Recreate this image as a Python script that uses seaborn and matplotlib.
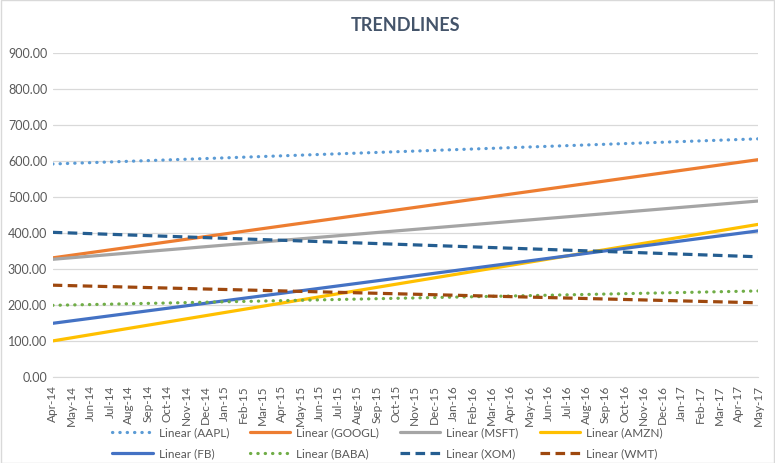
import pandas as pd
import matplotlib
matplotlib.use("Agg")
import matplotlib.pyplot as plt
import seaborn as sns

# month labels along the x axis
months = ["Apr-14", "May-14", "Jun-14", "Jul-14", "Aug-14", "Sep-14", "Oct-14", "Nov-14",
          "Dec-14", "Jan-15", "Feb-15", "Mar-15", "Apr-15", "May-15", "Jun-15", "Jul-15",
          "Aug-15", "Sep-15", "Oct-15", "Nov-15", "Dec-15", "Jan-16", "Feb-16", "Mar-16",
          "Apr-16", "May-16", "Jun-16", "Jul-16", "Aug-16", "Sep-16", "Oct-16", "Nov-16",
          "Dec-16", "Jan-17", "Feb-17", "Mar-17", "Apr-17", "May-17"]

# trendline start (Apr-14) and end (May-17) values
tickers = ["AAPL", "GOOGL", "MSFT", "AMZN", "FB", "BABA", "XOM", "WMT"]
start_vals = [592, 331, 327, 100, 149, 199, 402, 255]
end_vals = [662, 604, 489, 424, 406, 239, 334, 206]

colors = ["#5B9BD5", "#ED7D31", "#A5A5A5", "#FFC000", "#4472C4", "#70AD47", "#255E91", "#9E480E"]
styles = [(0, (0.1, 2.2)), "-", "-", "-", "-", (0, (0.1, 2.2)), (0, (3, 1.7)), (0, (3, 1.7))]

rows = []
for t, s, e in zip(tickers, start_vals, end_vals):
    rows.append({"series": "Linear (" + t + ")", "x": 0, "y": s})
    rows.append({"series": "Linear (" + t + ")", "x": len(months) - 1, "y": e})
df = pd.DataFrame(rows)

sns.set_style("white")
plt.rcParams['font.family'] = ['Lato', 'DejaVu Sans']

fig = plt.figure(figsize=(7.75, 4.63), dpi=100)
ax = fig.add_axes([0.068, 0.186, 0.91, 0.699])

for i, t in enumerate(tickers):
    name = "Linear (" + t + ")"
    sub = df[df["series"] == name]
    ls = styles[i]
    dotted = i in (0, 5)
    sns.lineplot(data=sub, x="x", y="y", ax=ax, color=colors[i], label=name,
                 linewidth=2.3, linestyle="-",
                 dash_capstyle="round" if dotted else "butt")
    line = ax.get_lines()[-1]
    if isinstance(ls, tuple):
        line.set_linestyle(ls)

ax.set_xlim(0, len(months) - 1)
ax.set_ylim(0, 900)
ax.set_yticks(range(0, 901, 100))
ax.set_yticklabels([f"{v:.2f}" for v in range(0, 901, 100)])
ax.set_xticks(range(len(months)))
ax.set_xticklabels(months, rotation=90)
ax.set_xlabel("")
ax.set_ylabel("")
ax.tick_params(axis="y", length=0, labelsize=9, labelcolor="#595959", pad=4)
ax.tick_params(axis="x", length=4, color="#D9D9D9", labelsize=8.5, labelcolor="#595959", pad=2)
ax.grid(axis="y", color="#D9D9D9", linewidth=0.9)
for side in ["left", "right", "top"]:
    ax.spines[side].set_visible(False)
ax.spines["bottom"].set_color("#D9D9D9")

ax.set_title("TRENDLINES", fontsize=13, fontweight="bold", color="#44546A", pad=16)

# legend filled row by row (4 columns, 2 rows)
handles, labels = ax.get_legend_handles_labels()
ax.get_legend().remove()
order = [0, 4, 1, 5, 2, 6, 3, 7]
leg = fig.legend([handles[k] for k in order], [labels[k] for k in order],
                 loc="center", bbox_to_anchor=(0.5, 0.043), ncol=4,
                 frameon=False, fontsize=8.5, handlelength=3.4, handletextpad=0.5,
                 columnspacing=1.8, labelspacing=0.8)
for txt in leg.get_texts():
    txt.set_color("#595959")

fig.patches.append(plt.Rectangle((0.001, 0.001), 0.998, 0.998, transform=fig.transFigure,
                                 fill=False, edgecolor="#D9D9D9", linewidth=1))

fig.savefig("out.png", dpi=100)
